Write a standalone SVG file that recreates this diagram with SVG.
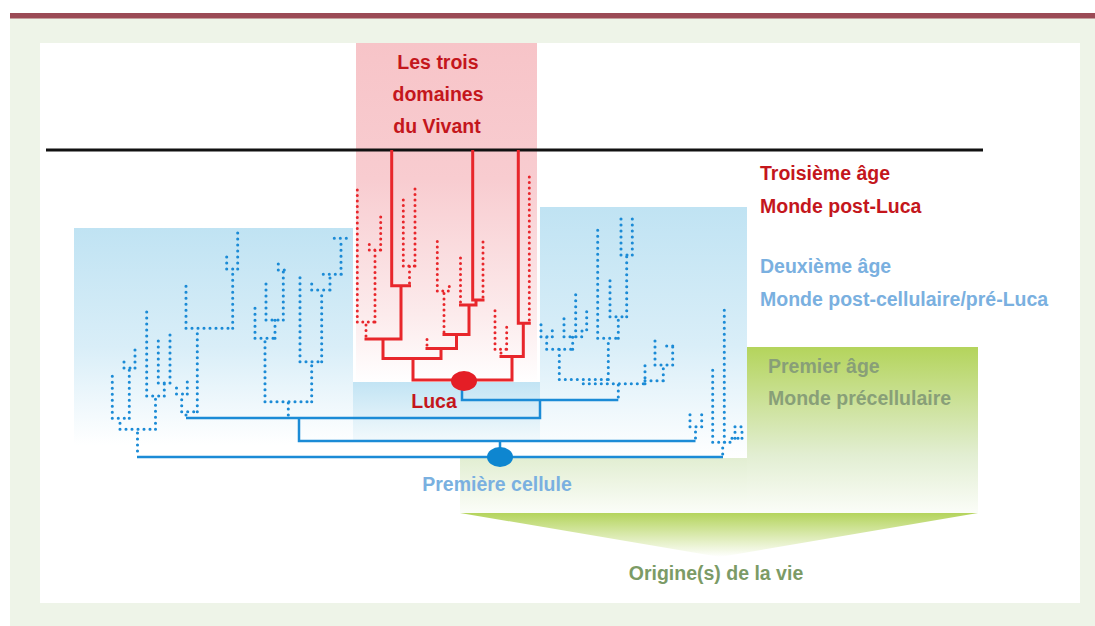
<svg xmlns="http://www.w3.org/2000/svg" width="1095" height="626" viewBox="0 0 1095 626">
<defs>
<linearGradient id="gPink" x1="0" y1="0" x2="0" y2="1"><stop offset="0" stop-color="#f7c4c8"/><stop offset="0.4" stop-color="#f8ccd0"/><stop offset="0.8" stop-color="#fcebec"/><stop offset="1" stop-color="#ffffff"/></linearGradient>
<linearGradient id="gBlue" x1="0" y1="0" x2="0" y2="1"><stop offset="0" stop-color="#c0e3f3"/><stop offset="0.55" stop-color="#d9eef8"/><stop offset="1" stop-color="#ffffff"/></linearGradient>
<linearGradient id="gLuca" x1="0" y1="0" x2="0" y2="1"><stop offset="0" stop-color="#c2e4f4"/><stop offset="1" stop-color="#f2f9fc"/></linearGradient>
<linearGradient id="gGreen" x1="0" y1="0" x2="0" y2="1"><stop offset="0" stop-color="#b4d45c"/><stop offset="0.65" stop-color="#e2eed2"/><stop offset="1" stop-color="#fbfdf8"/></linearGradient>
<linearGradient id="gGreenLow" x1="0" y1="0" x2="0" y2="1"><stop offset="0" stop-color="#e2eed2"/><stop offset="1" stop-color="#fbfdf8"/></linearGradient>
<linearGradient id="gTri" x1="0" y1="0" x2="0" y2="1"><stop offset="0" stop-color="#b4d45c"/><stop offset="1" stop-color="#ffffff"/></linearGradient>
<style>
.t{font-family:"Liberation Sans","DejaVu Sans",sans-serif;font-weight:bold;font-size:19.5px}
.red{fill:#c4161c}.blu{fill:#7ab0e0}.grn{fill:#889f78}.org{fill:#7c9b66}
.rs{fill:none;stroke:#e8262b;stroke-width:3;stroke-linecap:square}
.rd{fill:none;stroke:#e8262b;stroke-width:3;stroke-linecap:round;stroke-dasharray:0 5.5}
.bs{fill:none;stroke:#1b8bd6;stroke-width:2.5}
.bd{fill:none;stroke:#1b8bd6;stroke-width:3.1;stroke-linecap:round;stroke-dasharray:0 6}
</style>
</defs>
<g id="background">
<rect x="0" y="0" width="1095" height="626" fill="#ffffff"/>
<rect x="10" y="18" width="1085" height="608" fill="#eef4e8"/>
<rect x="10" y="13" width="1085" height="5.5" fill="#9b4a55"/>
<rect x="40" y="43" width="1040" height="560" fill="#ffffff"/>
</g>
<g id="zones">
<rect x="356" y="43" width="181" height="340" fill="url(#gPink)"/>
<rect x="74" y="228" width="279" height="217" fill="url(#gBlue)"/>
<rect x="540" y="207" width="207" height="251" fill="url(#gBlue)"/>
<rect x="353" y="382" width="187" height="58" fill="url(#gLuca)"/>
<rect x="747" y="347" width="231" height="166" fill="url(#gGreen)"/>
<rect x="460" y="458" width="287" height="55" fill="url(#gGreenLow)"/>
<polygon points="460,513 978,513 720,557" fill="url(#gTri)"/>
<line x1="46" y1="150" x2="983" y2="150" stroke="#111111" stroke-width="3"/>
</g>
<g id="connectors">
<path class="rs" d="M413,380H512M413,380V358.5M383,358.5H441M383,358.5V339M366,339H401M401,339V285.7M391.7,285.7H409.5M391.7,285.7V151.5M441,358.5V348.5M427,348.5H456.5M456.5,348.5V334.5M444,334.5H469M469,334.5V305M460.5,305H476V300M472.7,300H483M472.7,300V151.5M512,380V356.5M501,356.5H523.3M523.3,356.5V323.3M518.3,323.3H529.3M518.3,323.3V151.5"/>
<path class="rd" d="M366,336V322M357.3,322H375M357.3,322V187M375,322V250M369.3,250H380.7M369.3,250V240M380.7,250V215M409.5,283V266M403.3,266H415M403.3,266V198M415,266V188M427,345V337M444,332V291M437.3,291H449.3V286M437.3,291V241M460.5,302V252.5M483,297V239M501,353V349.3M495,349.3H506.7M495,349.3V306.7M506.7,349.3V324.3M529.3,320V175"/>
<path class="bd" d="M137.5,451V429.3M120,429.3H155.5M120,429.3V418.3M112.3,418.3H129.3M112.3,418.3V376M129.3,418.3V368M124,368H135M124,368V361M135,368V349.3M155.5,429.3V396M146.7,396H164.3M146.7,396V309.3M164.3,396V383M158.3,383H170M158.3,383V340M170,383V333.3M186,415V411.7M181.7,411.7H197.3M181.7,411.7V394M176.5,394H187.3M176.5,394V382M187.3,394V380M197.3,411.7V328.3M186,328.3H232.7M186,328.3V281.7M232.7,328.3V269M226.7,269H237.7M226.7,269V251.7M237.7,269V230"/>
<path class="bd" d="M288.3,415V401.7M265,401.7H311.7M265,401.7V338.3M255,338.3H275M255,338.3V302.7M275,338.3V320M266,320H283.3M266,320V280M283.3,320V270M278.3,270H289.3M278.3,270V261.7M311.7,401.7V361.7M300,361.7H323.3M300,361.7V273.3M321.7,361.7V290M311.7,290H331.7M311.7,290V283.3M330,290V274.3M323.3,274.3H341.7M341,274.3V238.3M334.3,238.3H346.7"/>
<path class="bd" d="M618.3,397V383.8M583.3,383.8H648.3M583.3,383.8V379.5M559.3,379.5H608.3M559.3,379.5V349.3M546.7,349.3H572.7M546.7,349.3V336.7M541,336.7H552.3M541,336.7V321.7M552.3,336.7V329.3M572.7,349.3V336.7M564,336.7H581.7M564,336.7V318.3M575.7,336.7V293.3M581.7,336.7V331H586.7V310M608.3,379.5V338.3M597.7,338.3H618.3M597.7,338.3V228.3M618.3,338.3V316.7M610,316.7H626.7M610,316.7V276.7M626.7,316.7V255M621,255H632.3M621,255V218.3M632.3,255V213.3M645,383.8V360M645,380.7H663.3M663.3,380.7V365M655,365H672.7M655,365V338.3M672.7,365V346M666.7,346H678.3"/>
<path class="bd" d="M695.5,438V426.7M690,426.7H701.7M690,426.7V411.7M701.7,426.7V410M722.7,454V442.3M712.7,442.3H730M712.7,442.3V370M724.3,442.3V308.3M730,442.3V438.3H742M735,438.3V426.7M742,438.3V426.7M735,426.7H747"/>
<path class="bs" d="M186,418H540V400M462,388V400H618.3M299,418V441H695.5M500,441V457M137,457H723"/>
</g>
<g id="luca">
<ellipse cx="464" cy="381" rx="13" ry="10" fill="#e41e26"/>
<text class="t red" x="434" y="408" text-anchor="middle" font-size="19">Luca</text>
</g>
<g id="premiere-cellule">
<ellipse cx="500" cy="457" rx="13" ry="10" fill="#0e86d0"/>
<text class="t blu" x="497" y="491" text-anchor="middle">Première cellule</text>
</g>
<g id="titre">
<text class="t red" x="438" y="69" text-anchor="middle">Les trois</text>
<text class="t red" x="438" y="101" text-anchor="middle">domaines</text>
<text class="t red" x="437" y="133" text-anchor="middle">du Vivant</text>
</g>
<g id="troisieme-age">
<text class="t red" x="760" y="180">Troisième âge</text>
<text class="t red" x="760" y="213">Monde post-Luca</text>
</g>
<g id="deuxieme-age">
<text class="t blu" x="760" y="273">Deuxième âge</text>
<text class="t blu" x="760" y="306">Monde post-cellulaire/pré-Luca</text>
</g>
<g id="premier-age">
<text class="t grn" x="768" y="372.5">Premier âge</text>
<text class="t grn" x="768" y="405">Monde précellulaire</text>
</g>
<g id="origine">
<text class="t org" x="716" y="580" text-anchor="middle">Origine(s) de la vie</text>
</g>
</svg>
